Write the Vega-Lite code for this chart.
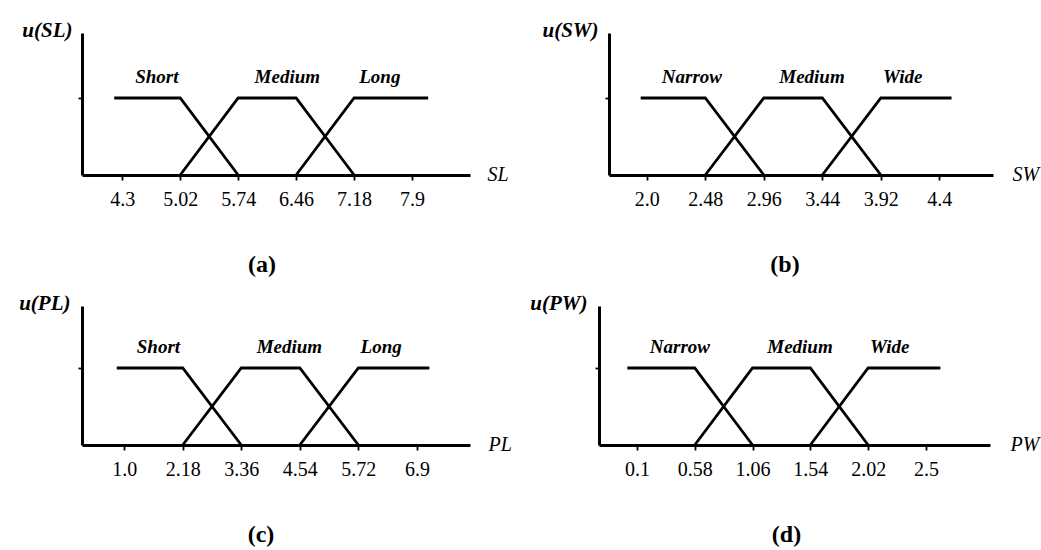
{
  "$schema": "https://vega.github.io/schema/vega-lite/v6.json",
  "background": "white",
  "padding": {"left": 18, "top": 19, "right": 5, "bottom": 5},
  "config": {
    "view": {"stroke": null},
    "font": "Liberation Serif",
    "axis": {
      "grid": false,
      "domainColor": "black",
      "domainWidth": 3,
      "tickColor": "black",
      "tickWidth": 1.8,
      "labelFont": "Liberation Serif",
      "labelColor": "black",
      "titleFont": "Liberation Serif",
      "titleColor": "black"
    },
    "axisX": {
      "labelFontSize": 20,
      "tickSize": 5,
      "labelPadding": 9,
      "titleFontSize": 20,
      "titleFontStyle": "italic",
      "titleFontWeight": "normal",
      "titleAngle": 0,
      "titleAlign": "left",
      "titleBaseline": "middle",
      "titleY": -1
    },
    "axisY": {
      "labels": false,
      "tickSize": 4,
      "titleFontSize": 21,
      "titleFontStyle": "italic",
      "titleFontWeight": "bold",
      "titleAngle": 0,
      "titleAlign": "right",
      "titleBaseline": "middle",
      "titleY": -3
    },
    "line": {"color": "black", "strokeWidth": 2.8},
    "text": {"font": "Liberation Serif", "fontSize": 19, "fontStyle": "italic", "fontWeight": "bold", "color": "black", "align": "center", "baseline": "alphabetic"},
    "title": {"font": "Liberation Serif", "fontSize": 24, "fontWeight": "bold", "color": "black", "orient": "bottom", "anchor": "middle", "frame": "group", "offset": 44}
  },
  "datasets": {
    "a_lines": [
      {"term": "Short", "x": 4.2, "y": 1}, {"term": "Short", "x": 5.02, "y": 1}, {"term": "Short", "x": 5.74, "y": 0},
      {"term": "Medium", "x": 5.02, "y": 0}, {"term": "Medium", "x": 5.74, "y": 1}, {"term": "Medium", "x": 6.46, "y": 1}, {"term": "Medium", "x": 7.18, "y": 0},
      {"term": "Long", "x": 6.46, "y": 0}, {"term": "Long", "x": 7.18, "y": 1}, {"term": "Long", "x": 8.1, "y": 1}
    ],
    "a_terms": [
      {"term": "Short", "x": 4.73, "y": 1.195},
      {"term": "Medium", "x": 6.35, "y": 1.195},
      {"term": "Long", "x": 7.5, "y": 1.195}
    ],
    "b_lines": [
      {"term": "Narrow", "x": 1.95, "y": 1}, {"term": "Narrow", "x": 2.48, "y": 1}, {"term": "Narrow", "x": 2.96, "y": 0},
      {"term": "Medium", "x": 2.48, "y": 0}, {"term": "Medium", "x": 2.96, "y": 1}, {"term": "Medium", "x": 3.44, "y": 1}, {"term": "Medium", "x": 3.92, "y": 0},
      {"term": "Wide", "x": 3.44, "y": 0}, {"term": "Wide", "x": 3.92, "y": 1}, {"term": "Wide", "x": 4.5, "y": 1}
    ],
    "b_terms": [
      {"term": "Narrow", "x": 2.37, "y": 1.195},
      {"term": "Medium", "x": 3.355, "y": 1.195},
      {"term": "Wide", "x": 4.1, "y": 1.195}
    ],
    "c_lines": [
      {"term": "Short", "x": 0.85, "y": 1}, {"term": "Short", "x": 2.18, "y": 1}, {"term": "Short", "x": 3.36, "y": 0},
      {"term": "Medium", "x": 2.18, "y": 0}, {"term": "Medium", "x": 3.36, "y": 1}, {"term": "Medium", "x": 4.54, "y": 1}, {"term": "Medium", "x": 5.72, "y": 0},
      {"term": "Long", "x": 4.54, "y": 0}, {"term": "Long", "x": 5.72, "y": 1}, {"term": "Long", "x": 7.15, "y": 1}
    ],
    "c_terms": [
      {"term": "Short", "x": 1.69, "y": 1.195},
      {"term": "Medium", "x": 4.33, "y": 1.195},
      {"term": "Long", "x": 6.18, "y": 1.195}
    ],
    "d_lines": [
      {"term": "Narrow", "x": 0.02, "y": 1}, {"term": "Narrow", "x": 0.58, "y": 1}, {"term": "Narrow", "x": 1.06, "y": 0},
      {"term": "Medium", "x": 0.58, "y": 0}, {"term": "Medium", "x": 1.06, "y": 1}, {"term": "Medium", "x": 1.54, "y": 1}, {"term": "Medium", "x": 2.02, "y": 0},
      {"term": "Wide", "x": 1.54, "y": 0}, {"term": "Wide", "x": 2.02, "y": 1}, {"term": "Wide", "x": 2.62, "y": 1}
    ],
    "d_terms": [
      {"term": "Narrow", "x": 0.457, "y": 1.195},
      {"term": "Medium", "x": 1.454, "y": 1.195},
      {"term": "Wide", "x": 2.2, "y": 1.195}
    ]
  },
  "vconcat": [
    {
      "hconcat": [
        {
          "width": 388, "height": 142,
          "title": {"text": "(a)", "dx": -14},
          "layer": [
            {
              "data": {"name": "a_lines"},
              "mark": {"type": "line"},
              "encoding": {
                "x": {"field": "x", "type": "quantitative", "scale": {"domain": [3.8, 8.62], "nice": false, "zero": false},
                      "axis": {"values": [4.3, 5.02, 5.74, 6.46, 7.18, 7.9], "labelExpr": "format(datum.value, '.2~f')", "title": "SL", "titleX": 405}},
                "y": {"field": "y", "type": "quantitative", "scale": {"domain": [0, 1.844], "nice": false},
                      "axis": {"values": [1], "title": "u(SL)", "titleX": -10}},
                "detail": {"field": "term"}
              }
            },
            {
              "data": {"name": "a_terms"},
              "mark": {"type": "text"},
              "encoding": {
                "x": {"field": "x", "type": "quantitative"},
                "y": {"field": "y", "type": "quantitative"},
                "text": {"field": "term"}
              }
            }
          ]
        },
        {
          "width": 384, "height": 142,
          "title": {"text": "(b)", "dx": -16},
          "layer": [
            {
              "data": {"name": "b_lines"},
              "mark": {"type": "line"},
              "encoding": {
                "x": {"field": "x", "type": "quantitative", "scale": {"domain": [1.69, 4.84], "nice": false, "zero": false},
                      "axis": {"values": [2.0, 2.48, 2.96, 3.44, 3.92, 4.4], "labelExpr": "datum.value == 2 ? '2.0' : format(datum.value, '.2~f')", "title": "SW", "titleX": 403}},
                "y": {"field": "y", "type": "quantitative", "scale": {"domain": [0, 1.844], "nice": false},
                      "axis": {"values": [1], "title": "u(SW)", "titleX": -11}},
                "detail": {"field": "term"}
              }
            },
            {
              "data": {"name": "b_terms"},
              "mark": {"type": "text"},
              "encoding": {
                "x": {"field": "x", "type": "quantitative"},
                "y": {"field": "y", "type": "quantitative"},
                "text": {"field": "term"}
              }
            }
          ]
        }
      ],
      "spacing": 139,
      "bounds": "flush"
    },
    {
      "hconcat": [
        {
          "width": 388, "height": 139,
          "title": {"text": "(c)", "dx": -15},
          "layer": [
            {
              "data": {"name": "c_lines"},
              "mark": {"type": "line"},
              "encoding": {
                "x": {"field": "x", "type": "quantitative", "scale": {"domain": [0.15, 7.97], "nice": false, "zero": false},
                      "axis": {"values": [1.0, 2.18, 3.36, 4.54, 5.72, 6.9], "labelExpr": "datum.value == 1 ? '1.0' : format(datum.value, '.2~f')", "title": "PL", "titleX": 406}},
                "y": {"field": "y", "type": "quantitative", "scale": {"domain": [0, 1.805], "nice": false},
                      "axis": {"values": [1], "title": "u(PL)", "titleX": -12}},
                "detail": {"field": "term"}
              }
            },
            {
              "data": {"name": "c_terms"},
              "mark": {"type": "text"},
              "encoding": {
                "x": {"field": "x", "type": "quantitative"},
                "y": {"field": "y", "type": "quantitative"},
                "text": {"field": "term"}
              }
            }
          ]
        },
        {
          "width": 391, "height": 139,
          "title": {"text": "(d)", "dx": -8},
          "layer": [
            {
              "data": {"name": "d_lines"},
              "mark": {"type": "line"},
              "encoding": {
                "x": {"field": "x", "type": "quantitative", "scale": {"domain": [-0.215, 3.032], "nice": false, "zero": false},
                      "axis": {"values": [0.1, 0.58, 1.06, 1.54, 2.02, 2.5], "labelExpr": "format(datum.value, '.2~f')", "title": "PW", "titleX": 411}},
                "y": {"field": "y", "type": "quantitative", "scale": {"domain": [0, 1.805], "nice": false},
                      "axis": {"values": [1], "title": "u(PW)", "titleX": -12}},
                "detail": {"field": "term"}
              }
            },
            {
              "data": {"name": "d_terms"},
              "mark": {"type": "text"},
              "encoding": {
                "x": {"field": "x", "type": "quantitative"},
                "y": {"field": "y", "type": "quantitative"},
                "text": {"field": "term"}
              }
            }
          ]
        }
      ],
      "spacing": 129,
      "bounds": "flush"
    }
  ],
  "spacing": 273,
  "bounds": "flush"
}
